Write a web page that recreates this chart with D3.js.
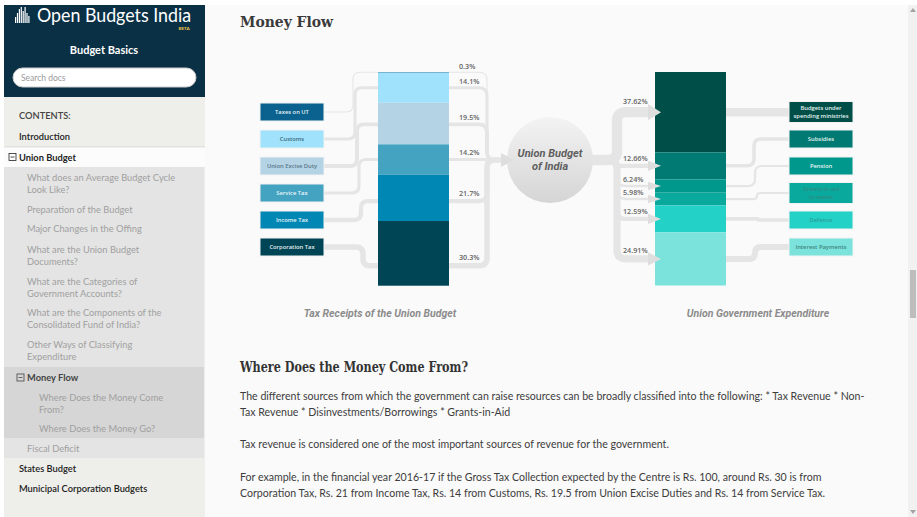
<!DOCTYPE html>
<html><head><meta charset="utf-8">
<script src="https://cdn.jsdelivr.net/npm/d3@7/dist/d3.min.js"></script>
<style>
html,body{margin:0;padding:0;background:#fff;overflow:hidden;}
svg{display:block;}
</style></head><body>
<svg id="page" width="917" height="517"></svg>
<script>
// ---------- DATA ----------
const receiptCategories = ["Taxes on UT","Customs","Union Excise Duty","Service Tax","Income Tax","Corporation Tax"];
const receiptShares = [0.3, 14.1, 19.5, 14.2, 21.7, 30.3];
const receiptColors = ["#0b628e","#a0e2fb","#b4d4e6","#43a3c1","#0187b4","#004555"];
const receiptTextColors = ["#e6f2f8","#3b6a7e","#5a7686","#eaf6fa","#eaf6fa","#e6eef0"];

const expenditureCategories = ["Budgets under|spending ministries","Subsidies","Pension","Grants-in-aid|to states","Defence","Interest Payments"];
const expenditureShares = [37.62, 12.66, 6.24, 5.98, 12.59, 24.91];
const expenditureColors = ["#004e48","#007a72","#00978d","#0aa99e","#24d1c6","#7be3dc"];
const expenditureTextColors = ["#e8f4f2","#e8f4f2","#e8f4f2","#2f8a82","#2a9f97","#3f8580"];

const centreLabel = ["Union Budget","of India"];
const chartCaptions = ["Tax Receipts of the Union Budget","Union Government Expenditure"];

const navItems = [
  {t:"CONTENTS:", lvl:0, style:"head"},
  {t:"Introduction", lvl:0, style:"top"},
  {t:"Union Budget", lvl:0, style:"open"},
  {t:"What does an Average Budget Cycle|Look Like?", lvl:1},
  {t:"Preparation of the Budget", lvl:1},
  {t:"Major Changes in the Offing", lvl:1},
  {t:"What are the Union Budget|Documents?", lvl:1},
  {t:"What are the Categories of|Government Accounts?", lvl:1},
  {t:"What are the Components of the|Consolidated Fund of India?", lvl:1},
  {t:"Other Ways of Classifying|Expenditure", lvl:1},
  {t:"Money Flow", lvl:1, style:"open"},
  {t:"Where Does the Money Come|From?", lvl:2},
  {t:"Where Does the Money Go?", lvl:2},
  {t:"Fiscal Deficit", lvl:1},
  {t:"States Budget", lvl:0, style:"top"},
  {t:"Municipal Corporation Budgets", lvl:0, style:"top"}
];

const paragraphs = [
  ["The different sources from which the government can raise resources can be broadly classified into the following: * Tax Revenue * Non-",
   "Tax Revenue * Disinvestments/Borrowings * Grants-in-Aid"],
  ["Tax revenue is considered one of the most important sources of revenue for the government."],
  ["For example, in the financial year 2016-17 if the Gross Tax Collection expected by the Centre is Rs. 100, around Rs. 30 is from",
   "Corporation Tax, Rs. 21 from Income Tax, Rs. 14 from Customs, Rs. 19.5 from Union Excise Duties and Rs. 14 from Service Tax."]
];

// ---------- PAGE ----------
const svg = d3.select("#page");
const SANS = "Lato, 'Open Sans', sans-serif";
const SLAB = "'DejaVu Serif', serif";

svg.append("rect").attr("width",917).attr("height",517).attr("fill","#ffffff");
svg.append("rect").attr("x",205).attr("y",5).attr("width",703).attr("height",512).attr("fill","#fafafa");

// ---- sidebar ----
const side = svg.append("g");
side.append("rect").attr("x",4).attr("y",97).attr("width",201).attr("height",420).attr("fill","#eeeeea");
side.append("rect").attr("x",4).attr("y",5).attr("width",201).attr("height",92).attr("fill","#0a3046");
const logoBars = [6,10,14,16,12,16,10,7];
side.selectAll("rect.lb").data(logoBars).join("rect")
  .attr("x",(d,i)=>15+i*1.9).attr("y",d=>23-d).attr("width",1.2).attr("height",d=>d)
  .attr("fill","#ffffff");
side.append("text").attr("x",37).attr("y",22).text("Open Budgets India")
  .attr("font-family","Lato, sans-serif").attr("font-size",18.5).attr("fill","#ffffff")
  .attr("textLength",154).attr("lengthAdjust","spacingAndGlyphs");
side.append("text").attr("x",184).attr("y",30).text("BETA").attr("text-anchor","middle")
  .attr("font-family",SANS).attr("font-size",4.5).attr("font-weight",900).attr("fill","#e5c04a");
side.append("text").attr("x",104).attr("y",54).text("Budget Basics").attr("text-anchor","middle")
  .attr("font-family",SANS).attr("font-size",11).attr("font-weight",700).attr("fill","#ffffff");
side.append("rect").attr("x",13).attr("y",68).attr("width",183).attr("height",19).attr("rx",9.5)
  .attr("fill","#ffffff").attr("stroke","#c9c9c9");
side.append("text").attr("x",21).attr("y",80.5).text("Search docs")
  .attr("font-family",SANS).attr("font-size",8.5).attr("fill","#9a9a9a");

side.append("line").attr("x1",4).attr("x2",205).attr("y1",147).attr("y2",147).attr("stroke","#d6d6d2");
side.append("rect").attr("x",4).attr("y",147.5).attr("width",201).attr("height",19.5).attr("fill","#fcfcfc");
side.append("rect").attr("x",4).attr("y",167).attr("width",200).attr("height",291).attr("fill","#e4e4e4");
side.append("rect").attr("x",4).attr("y",367).attr("width",200).attr("height",71).attr("fill","#d6d6d6");

const navY = [119,140,160.5,181,213,232,253,285,316,348,381,401,432,452,472,492];
navItems.forEach((it,i)=>{
  const lines = it.t.split("|");
  let x = it.lvl===0 ? 19 : it.lvl===1 ? 27 : 39;
  let color = "#a0a0a0", weight = 400;
  if (it.style==="head") { color="#444"; weight=600; }
  if (it.style==="top") { color="#222"; weight=600; }
  if (it.style==="open") { color= it.lvl===0 ? "#222" : "#444"; weight=700; }
  if (it.style==="open") {
    const ix = x - 10;
    side.append("rect").attr("x",ix).attr("y",navY[i]-7).attr("width",7).attr("height",7)
      .attr("fill","none").attr("stroke",color).attr("stroke-width",0.8);
    side.append("line").attr("x1",ix+1.5).attr("x2",ix+5.5).attr("y1",navY[i]-3.5).attr("y2",navY[i]-3.5)
      .attr("stroke",color).attr("stroke-width",0.8);
  }
  lines.forEach((l,j)=>{
    side.append("text").attr("x",x).attr("y",navY[i]+j*12).text(l)
      .attr("font-family",SANS).attr("font-size",9.3).attr("font-weight",weight).attr("fill",color);
  });
});

// ---- scrollbar ----
svg.append("rect").attr("x",908).attr("y",5).attr("width",9).attr("height",512).attr("fill","#f1f1f1");
svg.append("rect").attr("x",910).attr("y",270).attr("width",6).attr("height",48).attr("fill","#bdbdbd");
svg.append("path").attr("d","M910,12L913,8L916,12Z").attr("fill","#a3a3a3");
svg.append("path").attr("d","M910,510L913,514L916,510Z").attr("fill","#a3a3a3");

// ---- headings & text ----
svg.append("text").attr("x",240).attr("y",27).text("Money Flow")
  .attr("font-family",SLAB).attr("font-size",15.5).attr("font-weight",700).attr("fill","#3a3a3a")
  .attr("textLength",93).attr("lengthAdjust","spacingAndGlyphs");
svg.append("text").attr("x",240).attr("y",371.5).text("Where Does the Money Come From?")
  .attr("font-family",SLAB).attr("font-size",14).attr("font-weight",700).attr("fill","#333")
  .attr("textLength",228).attr("lengthAdjust","spacingAndGlyphs");
const paraY = [[399.5,415.5],[447.5],[480.5,496.5]];
paragraphs.forEach((p,i)=>p.forEach((l,j)=>{
  svg.append("text").attr("x",240).attr("y",paraY[i][j]).text(l)
    .attr("font-family",SANS).attr("font-size",10.6).attr("fill","#3d3d3d");
}));

// ---------- CHART ----------
const chart = svg.append("g");
const LINE = "#e5e5e5", ARROW = "#dedede";
const y = d3.scaleLinear().domain([0,100]).range([72,285.5]);
const leftBarX = 378, rightBarX = 655, barW = 71;
const fmtR = v => d3.format(".1f")(v)+"%";
const fmtE = v => d3.format(".2f")(v)+"%";

function stackOf(vals){ let c=0; return vals.map(v=>{const s={y0:c,y1:c+v,v}; c+=v; return s;}); }
const rStack = stackOf(receiptShares);
const eStack = stackOf(expenditureShares);
rStack.forEach(s=>{ const top=y(s.y0), bot=y(s.y1), h=bot-top; s.top=top; s.bot=bot; s.anchor = bot - Math.min(h/2,20); });
eStack.forEach(s=>{ s.top=y(s.y0); s.bot=y(s.y1); s.anchor=(s.top+s.bot)/2; });

const boxY = d3.scalePoint().domain(d3.range(6)).range([112,247]);

function elbow(x0,y0,xv,y1,x1,r){
  const dy=y1-y0;
  if (Math.abs(dy)<0.5) return `M${x0},${y0}H${x1}`;
  const s=Math.sign(dy), rr=Math.min(r,Math.abs(dy)/2);
  return `M${x0},${y0}H${xv-rr}Q${xv},${y0} ${xv},${y0+s*rr}V${y1-s*rr}Q${xv},${y1} ${xv+rr},${y1}H${x1}`;
}
const wL = v => 1 + v*0.15;
const wE = v => 1 + v*0.25;
const wE2 = v => 1 + v*0.2;

chart.selectAll("path.lc").data(rStack).join("path")
  .attr("d",(s,i)=>elbow(324,boxY(i),353+i*2,s.anchor,leftBarX,7))
  .attr("fill","none").attr("stroke",LINE).attr("stroke-width",s=>wL(s.v));

const trunkY = 160, cx = 550, cr = 43;
chart.selectAll("path.lt").data(rStack).join("path")
  .attr("d",s=>elbow(leftBarX+barW,s.anchor,487,trunkY,503,8))
  .attr("fill","none").attr("stroke",LINE).attr("stroke-width",s=>wL(s.v));

chart.selectAll("path.rt").data(eStack).join("path")
  .attr("d",s=>elbow(cx+cr-2,trunkY,617,s.anchor,649,9))
  .attr("fill","none").attr("stroke",LINE).attr("stroke-width",s=>wE(s.v));

chart.selectAll("path.rc").data(eStack).join("path")
  .attr("d",(s,i)=>elbow(rightBarX+barW,s.anchor,752+[0,2,3,5,6,3][i],boxY(i),789,7))
  .attr("fill","none").attr("stroke",LINE).attr("stroke-width",s=>wE2(s.v));

chart.selectAll("rect.lbar").data(rStack).join("rect")
  .attr("x",leftBarX).attr("width",barW).attr("y",s=>s.top).attr("height",s=>s.bot-s.top)
  .attr("fill",(s,i)=>receiptColors[i]);
chart.selectAll("rect.rbar").data(eStack).join("rect")
  .attr("x",rightBarX).attr("width",barW).attr("y",s=>s.top).attr("height",s=>s.bot-s.top)
  .attr("fill",(s,i)=>expenditureColors[i]);

const defs = svg.append("defs");
const grad = defs.append("linearGradient").attr("id","cg").attr("x1",0).attr("y1",0).attr("x2",0).attr("y2",1);
grad.append("stop").attr("offset","0%").attr("stop-color","#f3f3f3");
grad.append("stop").attr("offset","100%").attr("stop-color","#d5d5d5");
chart.append("circle").attr("cx",cx).attr("cy",trunkY).attr("r",cr).attr("fill","url(#cg)");
centreLabel.forEach((t,i)=>{
  chart.append("text").attr("x",cx).attr("y",trunkY-3+i*13).text(t).attr("text-anchor","middle")
    .attr("font-family","Roboto, sans-serif").attr("font-style","italic").attr("font-weight",700)
    .attr("font-size",11).attr("fill","#5f5f5f");
});
chart.append("path").attr("d",`M501,${trunkY-7}L514,${trunkY}L501,${trunkY+7}Z`).attr("fill",ARROW);

chart.selectAll("path.ah").data(eStack).join("path")
  .attr("d",s=>{const h=Math.max(4,wE(s.v)/2+3); return `M648,${s.anchor-h}L${661},${s.anchor}L648,${s.anchor+h}Z`;})
  .attr("fill",ARROW);

chart.selectAll("text.lp").data(rStack).join("text")
  .attr("x",459).attr("y",s=>s.anchor-wL(s.v)/2-2.5).text(s=>fmtR(s.v))
  .attr("font-family","'Open Sans', sans-serif").attr("font-size",7.2).attr("font-weight",600).attr("fill","#666");
chart.selectAll("text.rp").data(eStack).join("text")
  .attr("x",623).attr("y",s=>s.anchor-wE(s.v)/2-2.5).text(s=>fmtE(s.v))
  .attr("font-family","'Open Sans', sans-serif").attr("font-size",7.2).attr("font-weight",600).attr("fill","#666");

function boxes(cats, colors, tcolors, x0){
  cats.forEach((c,i)=>{
    const lines=c.split("|"), h = lines.length>1 ? 21 : 18, cy=boxY(i);
    chart.append("rect").attr("x",x0).attr("y",cy-h/2).attr("width",64).attr("height",h)
      .attr("fill",colors[i]).attr("stroke","#f2f2f2").attr("stroke-width",1);
    lines.forEach((l,j)=>{
      chart.append("text").attr("x",x0+32).attr("y",cy+2.2+(j-(lines.length-1)/2)*7.5).text(l)
        .attr("text-anchor","middle").attr("font-family","'Open Sans', sans-serif")
        .attr("font-size",5.8).attr("font-weight",600).attr("fill",tcolors[i]);
    });
  });
}
boxes(receiptCategories, receiptColors, receiptTextColors, 260);
boxes(expenditureCategories, expenditureColors, expenditureTextColors, 789);

[380,758].forEach((x,i)=>{
  chart.append("text").attr("x",x).attr("y",317).text(chartCaptions[i]).attr("text-anchor","middle")
    .attr("font-family","Roboto, sans-serif").attr("font-style","italic").attr("font-weight",700)
    .attr("font-size",10.5).attr("fill","#8c8c8c");
});
</script>
</body></html>
